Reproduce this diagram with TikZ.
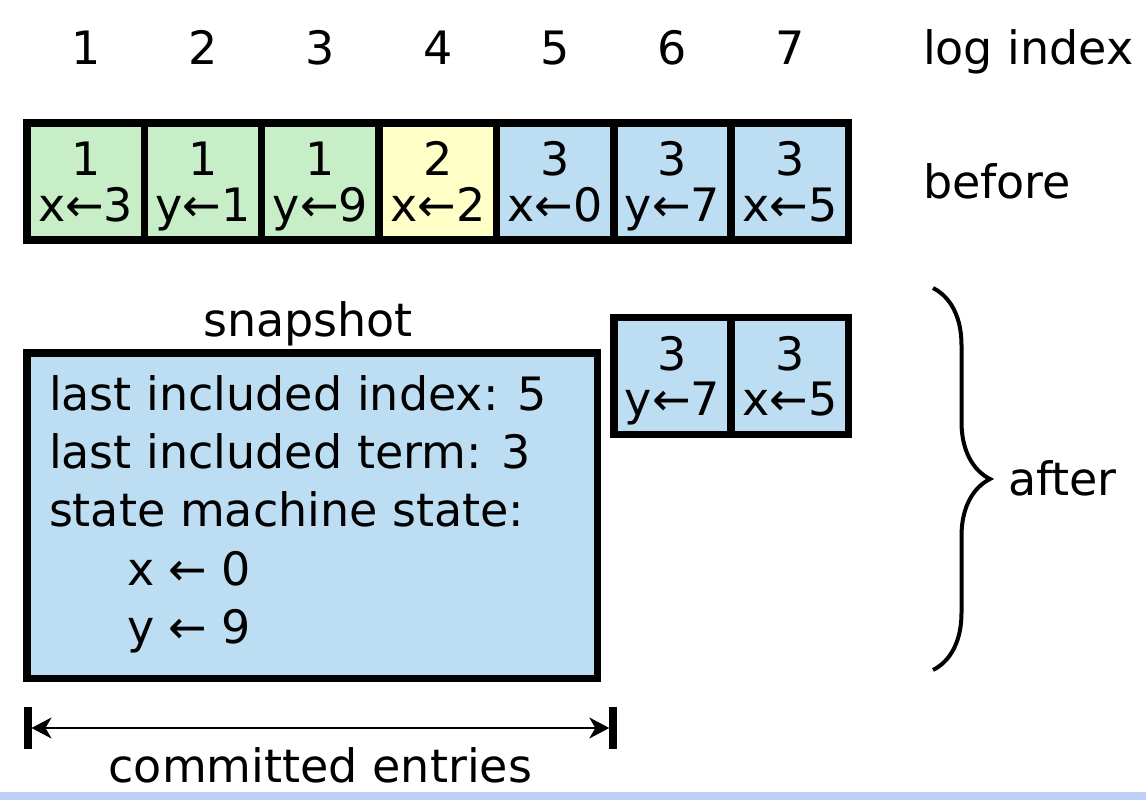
\documentclass[tikz,border=0pt]{standalone}
\usepackage{fontspec}
\setmainfont{DejaVu Sans}
\usetikzlibrary{arrows.meta,decorations.pathreplacing}
\definecolor{cgreen}{RGB}{199,238,199}
\definecolor{cyellow}{RGB}{255,255,200}
\definecolor{cblue}{RGB}{189,221,242}
\definecolor{cbar}{RGB}{191,208,245}
\begin{document}
\begin{tikzpicture}[x=1pt,y=-1pt,
  every node/.style={font=\fontsize{46}{46}\selectfont, inner sep=0pt, outer sep=0pt},
  cellbox/.style={draw=black, line width=7.5pt, minimum width=117.36pt, minimum height=117pt},
  celltxt/.style={anchor=base},
  lefttxt/.style={anchor=base west},
  tick/.style={line width=8pt},
  headtip/.tip={Stealth[length=20pt,width=21pt,inset=6pt]},
]
\useasboundingbox (0,0) rectangle (1146,800);
\fill[white] (0,0) rectangle (1146,800);
\fill[cbar] (0,791.5) rectangle (1146,800);

% log index numbers and "before" row
\foreach \i/\t/\c/\col in {1/1/x←3/cgreen, 2/1/y←1/cgreen, 3/1/y←9/cgreen, 4/2/x←2/cyellow, 5/3/x←0/cblue, 6/3/y←7/cblue, 7/3/x←5/cblue} {
  \node[celltxt] (n\i) at ({27+117.36*(\i-0.5)},64) {\i};
  \node[cellbox, fill=\col] (b\i) at ({27+117.36*(\i-0.5)},181.5) {};
  \node[celltxt] (bt\i) at ({27+117.36*(\i-0.5)},175) {\t};
  \node[celltxt] (bc\i) at ({27+117.36*(\i-0.5)},221.5) {\c};
}
\node[lefttxt] (logidx) at (923,64) {log index};
\node[lefttxt] (before) at (923,198) {before};

% "after" row
\foreach \i/\t/\c in {6/3/y←7, 7/3/x←5} {
  \node[cellbox, fill=cblue] (a\i) at ({27+117.36*(\i-0.5)},376) {};
  \node[celltxt] (at\i) at ({27+117.36*(\i-0.5)},370) {\t};
  \node[celltxt] (ac\i) at ({27+117.36*(\i-0.5)},415.5) {\c};
}

% snapshot
\node[celltxt] (snaplbl) at (308,336) {snapshot};
\node[cellbox, fill=cblue, minimum width=570.5pt, minimum height=325.7pt] (snap) at (312.25,515.85) {};
\node[lefttxt] (s1) at (49,410) {last included index: 5};
\node[lefttxt] (s2) at (49,468.4) {last included term: 3};
\node[lefttxt] (s3) at (49,526.8) {state machine state:};
\node[lefttxt] (s4) at (127,585.2) {x ← 0};
\node[lefttxt] (s5) at (127,643.6) {y ← 9};

% brace
\coordinate (brT) at (933,288);
\coordinate (brB) at (933,670);
\draw[line width=4pt, decorate, decoration={brace, amplitude=57pt}] (brT) -- (brB);
\node[lefttxt] (after) at (1008,495) {after};

% committed entries
\coordinate (barLt) at (27.5,706.5);
\coordinate (barLb) at (27.5,748.5);
\coordinate (barRt) at (613.3,706.5);
\coordinate (barRb) at (613.3,748.5);
\coordinate (aL) at (31.5,728);
\coordinate (aR) at (609.3,728);
\draw[tick] (barLt) -- (barLb);
\draw[tick] (barRt) -- (barRb);
\draw[line width=2pt, {headtip}-{headtip}] (aL) -- (aR);
\node[celltxt] (committed) at (320.4,782) {committed entries};
\end{tikzpicture}
\end{document}
